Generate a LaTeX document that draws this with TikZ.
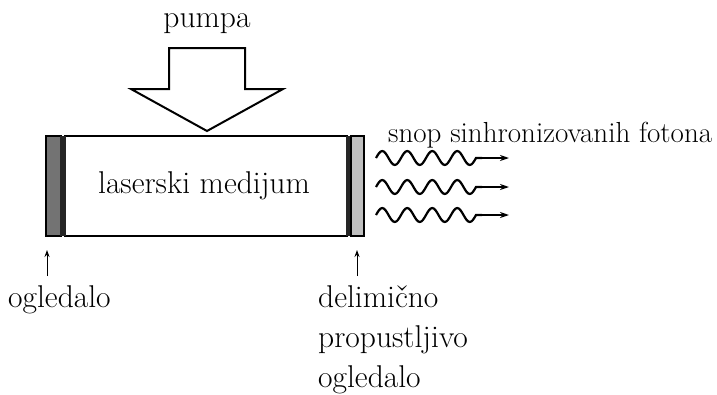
\documentclass[tikz,border=0pt]{standalone}
\usetikzlibrary{arrows.meta}
\begin{document}
\begin{tikzpicture}[x=1pt,y=-1pt,
  lbl/.style={font=\fontsize{31.5}{36}\selectfont, inner sep=0pt},
  wave/.style={line width=2.2pt},
  pointer/.style={line width=1pt,-{Stealth[length=7pt,width=5pt]}}]
\useasboundingbox (0,0) rectangle (717,394);
% pump arrow
\draw[line width=2pt, line join=miter] (169,48) -- (245,48) -- (245,89) -- (283,89) -- (207,131) -- (131,89) -- (169,89) -- cycle;
\node[lbl, anchor=base] (pump) at (207,27) {pumpa};
% medium
\node[draw, line width=2.5pt, minimum width=282pt, minimum height=100pt, inner sep=0pt] (med) at (206,186) {};
\node[lbl, anchor=base] (medtxt) at (204,193) {laserski medijum};
% left mirror
\filldraw[fill=gray!90!black, draw=black, line width=2pt] (46,136) rectangle (61,236);
\fill[black!85] (60,136) rectangle (66,236);
% right mirror
\fill[black!85] (346,136) rectangle (351,236);
\filldraw[fill=gray!50, draw=black, line width=2pt] (351,136) rectangle (364,236);
\node[lbl, font=\fontsize{29}{34}\selectfont, anchor=base west] (snop) at (388,142) {snop sinhronizovanih fotona};
% photons
\foreach \yy/\nm in {158/a,187/b,215/c}{
  \coordinate (s\nm) at (376,\yy);
  \coordinate (e\nm) at (509,\yy);
  \draw[wave] (s\nm) \foreach \k in {1,...,4}{ sin ++(6.25,-7) cos ++(6.25,7) sin ++(6.25,7) cos ++(6.25,-7) } -- (482,\yy);
  \draw[-{Stealth[length=9pt,width=6pt]}, line width=1.8pt] (480,\yy) -- (e\nm);
}
% labels
\coordinate (l0) at (47,276);
\coordinate (l1) at (47,250);
\draw[pointer] (l0) -- (l1);
\coordinate (r0) at (357,276);
\coordinate (r1) at (357,250);
\draw[pointer] (r0) -- (r1);
\node[lbl, anchor=base west] (og1) at (8,307) {ogledalo};
\node[lbl, anchor=base west] (d1) at (318,307) {delimično};
\node[lbl, anchor=base west] (d2) at (318,347) {propustljivo};
\node[lbl, anchor=base west] (d3) at (318,387) {ogledalo};
\end{tikzpicture}
\end{document}
